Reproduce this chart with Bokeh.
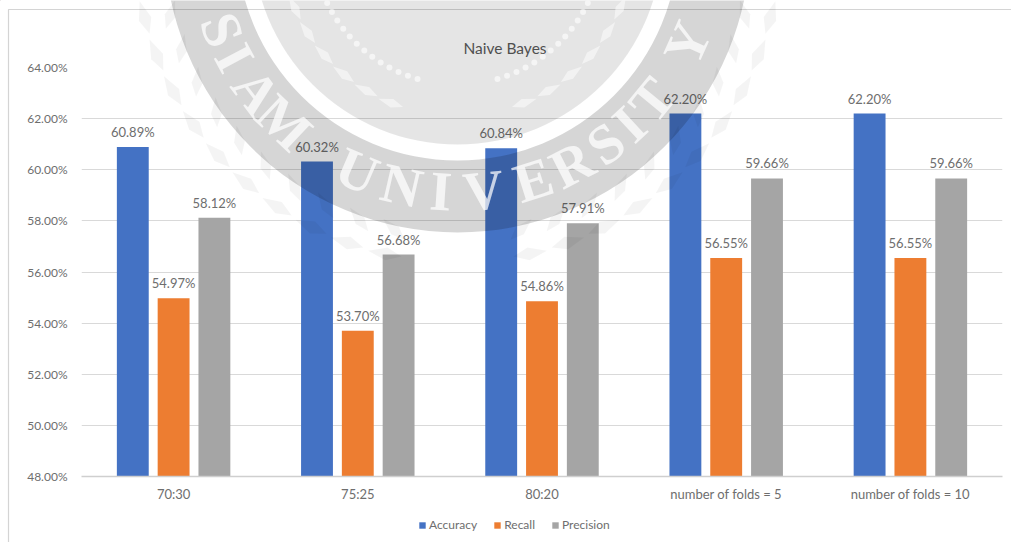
import math

from bokeh.core.properties import value
from bokeh.embed import file_html
from bokeh.models import (ColumnDataSource, FactorRange, FixedTicker, Legend, LegendItem,
                          PrintfTickFormatter, Range1d)
from bokeh.plotting import figure
from bokeh.resources import INLINE
from bokeh.transform import dodge

categories = ["70:30", "75:25", "80:20", "number of folds = 5", "number of folds = 10"]
accuracy = [60.89, 60.32, 60.84, 62.20, 62.20]
recall = [54.97, 53.70, 54.86, 56.55, 56.55]
precision = [58.12, 56.68, 57.91, 59.66, 59.66]
y_ticks = [48, 50, 52, 54, 56, 58, 60, 62, 64]
series = [("Accuracy", accuracy, "#4472C4", -0.2215),
          ("Recall", recall, "#ED7D31", 0.0),
          ("Precision", precision, "#A5A5A5", 0.2215)]

FONT = "Lato"
TEXT = "#6e6e6e"
W, H = 1011, 542

p = figure(width=W, height=H, output_backend="svg", toolbar_location=None,
           x_range=FactorRange(factors=categories, range_padding=0.0),
           y_range=Range1d(48, 64),
           min_border_left=81, min_border_right=9, min_border_top=67, min_border_bottom=66,
           background_fill_color="white", border_fill_color="white", outline_line_color=None)
p.x_range.factor_padding = 0.0
p.x_range.group_padding = 0.0

p.title.text = "Naive Bayes"
p.title.align = "left"
p.title.offset = 382
p.title.text_font = FONT
p.title.text_font_size = "15.5px"
p.title.text_font_style = "normal"
p.title.text_color = "#595959"
p.title.standoff = 22

p.xgrid.visible = False
p.ygrid.grid_line_color = "#d9d9d9"
p.ygrid.grid_line_width = 1
p.yaxis.ticker = FixedTicker(ticks=y_ticks)
p.ygrid.ticker = FixedTicker(ticks=y_ticks)
p.yaxis.formatter = PrintfTickFormatter(format="%.2f%%")
p.yaxis.axis_line_color = None
p.yaxis.major_tick_line_color = None
p.yaxis.minor_tick_line_color = None
p.yaxis.major_label_text_font = FONT
p.yaxis.major_label_text_font_size = "12px"
p.yaxis.major_label_text_color = TEXT
p.yaxis.major_label_standoff = 8
p.xaxis.axis_line_color = "#cfcfcf"
p.xaxis.axis_line_width = 1.5
p.xaxis.major_tick_line_color = None
p.xaxis.minor_tick_line_color = None
p.xaxis.major_label_text_font = FONT
p.xaxis.major_label_text_font_size = "13px"
p.xaxis.major_label_text_color = TEXT
p.xaxis.major_label_standoff = 3

for name, vals, color, shift in series:
    src = ColumnDataSource(dict(cat=categories, val=vals, label=[f"{v:.2f}%" for v in vals]))
    x = dodge("cat", shift, range=p.x_range)
    p.vbar(x=x, top="val", bottom=48, width=0.173, source=src, fill_color=color, line_color=None)
    p.text(x=x, y="val", text="label", source=src, text_align="center", text_baseline="bottom",
           y_offset=-7, text_font=value(FONT), text_font_size="13px", text_color=TEXT)

# Transparent layer on top of the chart: chart frame, seal and legend, in page pixels
seal = figure(width=W, height=H, output_backend="svg", toolbar_location=None,
              x_range=Range1d(0, W), y_range=Range1d(H, 0),
              x_axis_type=None, y_axis_type=None,
              min_border=0, min_border_left=0, min_border_right=0, min_border_top=0, min_border_bottom=0,
              outline_line_color=None, background_fill_alpha=0, border_fill_alpha=0,
              styles={"position": "absolute", "top": "0", "left": "0"})

CX, CY = 457, -61


def polar(r, deg):
    a = math.radians(deg)
    return CX + r * math.sin(a), CY + r * math.cos(a)


def leaf_shape(r, deg, length, width, tilt):
    bx, by = polar(r, deg)
    a = math.radians(deg + tilt)
    ux, uy = math.cos(a), -math.sin(a)
    nx, ny = -uy, ux
    pts = [(bx, by), (bx + ux * length * 0.45 + nx * width / 2, by + uy * length * 0.45 + ny * width / 2),
           (bx + ux * length, by + uy * length),
           (bx + ux * length * 0.45 - nx * width / 2, by + uy * length * 0.45 - ny * width / 2)]
    return [q[0] for q in pts], [q[1] for q in pts]


seal.line([8, 8, W], [H, 9, 9], line_color="#d4d4d4", line_width=1.2)
seal.annulus(x=[CX], y=[CY], inner_radius=221, outer_radius=293, fill_color="#000000", fill_alpha=0.16,
             line_color=None)
seal.circle(x=[CX], y=[CY], radius=205, fill_color="#000000", fill_alpha=0.10, line_color=None)

outer_xs, outer_ys, inner_xs, inner_ys = [], [], [], []
for sign in (-1, 1):
    for d in range(10, 92, 7):
        for r, length, width, tilt in [(322, 34, 13, 0), (305, 30, 11, 35)]:
            lx, ly = leaf_shape(r, sign * d, length, width, tilt if sign > 0 else 180 - tilt)
            outer_xs.append(lx)
            outer_ys.append(ly)
    for d in range(18, 75, 9):
        lx, ly = leaf_shape(176, sign * d, 26, 9, 0 if sign > 0 else 180)
        inner_xs.append(lx)
        inner_ys.append(ly)
seal.patches(outer_xs, outer_ys, fill_color="#000000", fill_alpha=0.045, line_color=None)
seal.patches(inner_xs, inner_ys, fill_color="#ffffff", fill_alpha=0.5, line_color=None)

# Beaded arc inside the seal
beads = [polar(145, d) for d in list(range(-68, -12, 4)) + list(range(16, 72, 4))]
seal.circle(x=[q[0] for q in beads], y=[q[1] for q in beads], radius=3,
            fill_color="#ffffff", fill_alpha=0.6, line_color=None)

letters = list("SIAMUNIVERSITY")
letter_degs = [-69, -62, -53, -43.4, -23.4, -12.8, -3.8, 5.9, 17.5, 27, 36, 43, 50.5, 65.7]
letter_pos = [polar(252, d) for d in letter_degs]
seal.text(x=[q[0] for q in letter_pos], y=[q[1] for q in letter_pos], text=letters,
          angle=letter_degs, angle_units="deg", text_align="center", text_baseline="middle",
          text_font=value("Liberation Serif"), text_font_style="bold", text_font_size="56px",
          text_color="#ffffff", text_alpha=0.72)

# Legend keys sit outside the visible page range; only their swatches show in the legend
items = []
for name, _, color, _ in series:
    key = seal.vbar(x=[-50], top=[-50], bottom=[-60], width=1, fill_color=color, line_color=None)
    items.append(LegendItem(label=name, renderers=[key]))
seal.add_layout(Legend(items=items, orientation="horizontal", location=(418, 10),
                       background_fill_alpha=0, border_line_color=None,
                       label_text_font=FONT, label_text_font_size="12px", label_text_color=TEXT,
                       glyph_width=8, glyph_height=8, spacing=16, label_standoff=3, margin=0, padding=0))

open("out.html", "w").write(file_html([p, seal], INLINE))
